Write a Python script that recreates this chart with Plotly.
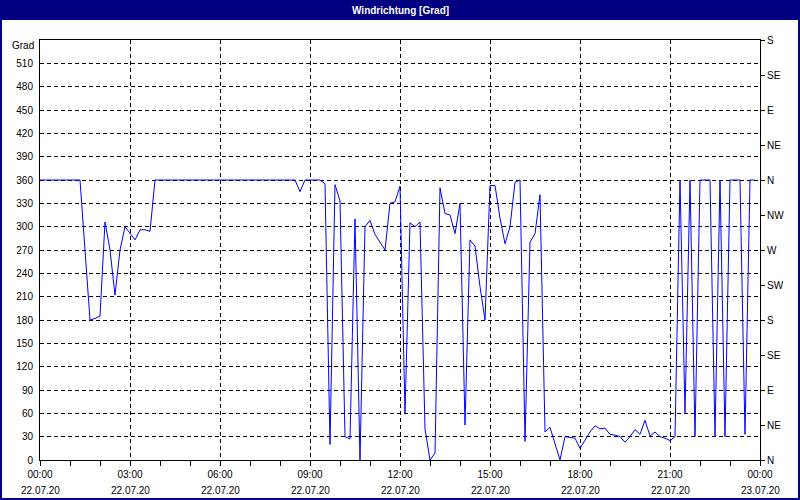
import pandas as pd
import plotly.graph_objects as go

# ---- data (10-minute samples, 22.07.20 00:00 onward) ----
start_time = "2020-07-22 00:00"
sample_step = "10min"
wind_dir = [
    360, 360, 360, 360, 360, 360, 360, 360, 360, 270,
    180, 182, 185, 306, 270, 212, 270, 300, 291, 283,
    296, 296, 294, 360, 360, 360, 360, 360, 360, 360,
    360, 360, 360, 360, 360, 360, 360, 360, 360, 360,
    360, 360, 360, 360, 360, 360, 360, 360, 360, 360,
    360, 360, 345, 360, 360, 360, 360, 355, 20, 354,
    333, 30, 27, 310, 0, 300, 308, 290, 280, 270,
    330, 332, 352, 60, 305, 300, 306, 40, 0, 9,
    350, 317, 315, 291, 330, 45, 283, 275, 223, 180,
    353, 353, 311, 278, 300, 357, 360, 24, 280, 291,
    341, 36, 42, 22, 0, 30, 29, 28, 15, 25,
    36, 44, 40, 41, 33, 32, 30, 23, 30, 39,
    33, 51, 31, 36, 30, 28, 25, 30, 360, 60,
    360, 30, 360, 360, 360, 30, 360, 30, 360, 360,
    360, 33, 360, 360,
]

x_ticks = ["2020-07-22 00:00", "2020-07-22 03:00", "2020-07-22 06:00",
           "2020-07-22 09:00", "2020-07-22 12:00", "2020-07-22 15:00",
           "2020-07-22 18:00", "2020-07-22 21:00", "2020-07-23 00:00"]
time_labels = ["00:00", "03:00", "06:00", "09:00", "12:00", "15:00", "18:00", "21:00", "00:00"]
date_labels = ["22.07.20"] * 8 + ["23.07.20"]
left_ticks = list(range(0, 511, 30))
right_ticks = [0, 45, 90, 135, 180, 225, 270, 315, 360, 405, 450, 495, 540]
right_labels = ["N", "NE", "E", "SE", "S", "SW", "W", "NW", "N", "NE", "E", "SE", "S"]

times = pd.date_range(start_time, periods=len(wind_dir), freq=sample_step)

FONT = "Liberation Sans, Arial, sans-serif"
NAVY = "#000080"

fig = go.Figure()
fig.add_trace(go.Scatter(x=times, y=wind_dir, mode="lines",
                         line=dict(color="#0000FF", width=1), showlegend=False))
fig.add_trace(go.Scatter(x=[times[0]], y=[0], yaxis="y2", mode="markers",
                         marker=dict(opacity=0), showlegend=False, hoverinfo="skip"))

W, H = 800, 500
ml, mr, mt, mb = 40, 40, 40, 40
pw, ph = W - ml - mr, H - mt - mb

def px_x(p):
    return (p - ml) / pw

def px_y(p):
    return (H - mb - p) / ph

fig.update_layout(
    width=W, height=H,
    margin=dict(l=ml, r=mr, t=mt, b=mb, autoexpand=False),
    paper_bgcolor="white", plot_bgcolor="white",
    font=dict(family=FONT, size=10, color="black"),
    xaxis=dict(
        type="date", range=[x_ticks[0], x_ticks[-1]],
        tickvals=x_ticks, ticktext=time_labels,
        ticks="outside", ticklen=5, tickcolor="black", tickwidth=1,
        minor=dict(dtick=3600000, ticks="outside", ticklen=5, tickcolor="black", showgrid=False),
        showgrid=True, gridcolor="black", gridwidth=1, griddash="4px,3px",
        showline=True, linecolor="black", linewidth=1, mirror=True,
        zeroline=False, automargin=False, tickangle=0,
    ),
    yaxis=dict(
        range=[0, 540], tickvals=left_ticks,
        showgrid=True, gridcolor="black", gridwidth=1, griddash="4px,3px",
        showline=True, linecolor="black", linewidth=1,
        zeroline=False, automargin=False, ticks="", ticklabelstandoff=4,
    ),
    yaxis2=dict(
        range=[0, 540], tickvals=right_ticks, ticktext=right_labels,
        overlaying="y", side="right", showgrid=False,
        showline=True, linecolor="black", linewidth=1,
        ticks="outside", ticklen=4, tickcolor="black",
        zeroline=False, automargin=False,
    ),
    hovermode=False,
)

shapes = [
    dict(type="rect", xref="paper", yref="paper",
         x0=px_x(0), x1=px_x(W), y0=px_y(20), y1=px_y(0),
         fillcolor=NAVY, line=dict(width=0), layer="above"),
    dict(type="rect", xref="paper", yref="paper",
         x0=px_x(1), x1=px_x(W - 1), y0=px_y(H - 1), y1=px_y(1),
         fillcolor="rgba(0,0,0,0)", line=dict(color=NAVY, width=2), layer="above"),
]
fig.update_layout(shapes=shapes)

annotations = [
    dict(text="<b>Windrichtung [Grad]</b>", xref="paper", yref="paper",
         x=px_x(400), y=px_y(10), xanchor="center", yanchor="middle",
         showarrow=False, font=dict(family="Liberation Sans Narrow, Liberation Sans, Arial", size=10, color="white")),
    dict(text="Grad", xref="paper", yref="y", x=0, y=540, xanchor="right", yanchor="middle",
         xshift=-4, yshift=-5, showarrow=False, font=dict(family=FONT, size=10, color="black")),
]
for t, d in zip(x_ticks, date_labels):
    annotations.append(dict(text=d, xref="x", yref="paper", x=t, y=0,
                            xanchor="center", yanchor="middle", yshift=-30,
                            showarrow=False, font=dict(family=FONT, size=10, color="black")))
fig.update_layout(annotations=annotations)

fig.write_html("out.html", config={"displayModeBar": False, "staticPlot": True},
               post_script="document.body.style.margin='0';document.body.style.overflow='hidden';")
